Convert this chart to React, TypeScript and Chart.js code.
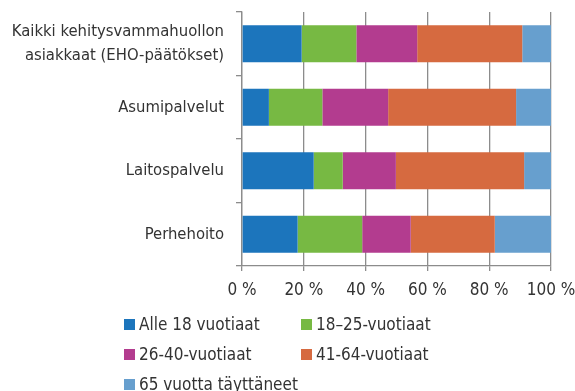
import React, { useEffect, useRef } from "react";
import { Chart, registerables } from "chart.js";

Chart.register(...registerables);

// Ikäryhmien osuudet (%) palveluittain
const categories: (string | string[])[] = [
  ["Kaikki kehitysvammahuollon", "asiakkaat (EHO-päätökset)"],
  "Asumipalvelut",
  "Laitospalvelu",
  "Perhehoito",
];
const alle18 = [19.3, 8.7, 23.2, 18.0];
const v18to25 = [17.7, 17.3, 9.4, 20.9];
const v26to40 = [19.7, 21.3, 17.2, 15.7];
const v41to64 = [34.0, 41.4, 41.5, 27.2];
const v65plus = [9.3, 11.3, 8.7, 18.2];

const seriesLabels = [
  "Alle 18 vuotiaat",
  "18–25-vuotiaat",
  "26-40-vuotiaat",
  "41-64-vuotiaat",
  "65 vuotta täyttäneet",
];
const xTicks = [0, 20, 40, 60, 80, 100];

const colors = ["#1c75bc", "#77b943", "#b33c8f", "#d66a40", "#679fce"];
const FONT = "'Liberation Sans Narrow', 'DejaVu Sans Condensed', 'Liberation Sans', sans-serif";
const TEXT = "#333333";
const GRID = "#8c8c8c";

export default function App() {
  const ref = useRef<HTMLCanvasElement | null>(null);

  useEffect(() => {
    if (!ref.current) return;
    const values = [alle18, v18to25, v26to40, v41to64, v65plus];
    const chart = new Chart(ref.current, {
      type: "bar",
      data: {
        labels: categories,
        datasets: values.map((d, i) => ({
          label: seriesLabels[i],
          data: d,
          backgroundColor: colors[i],
          borderWidth: 0,
          categoryPercentage: 0.58,
          barPercentage: 1,
        })),
      },
      options: {
        indexAxis: "y",
        animation: false,
        responsive: false,
        maintainAspectRatio: false,
        layout: { padding: { top: 12, right: 24, bottom: 90, left: 0 } },
        plugins: { legend: { display: false }, tooltip: { enabled: false } },
        scales: {
          x: {
            stacked: true,
            min: 0,
            max: 100,
            afterBuildTicks: (scale: any) => {
              scale.ticks = xTicks.map((v) => ({ value: v }));
            },
            afterFit: (scale: any) => {
              scale.height = 35;
              scale.paddingLeft = 0;
              scale.paddingRight = 0;
            },
            grid: {
              color: GRID,
              lineWidth: 1.3,
              tickLength: 5,
              drawTicks: true,
            },
            border: { color: GRID, width: 1.3 },
            ticks: {
              color: TEXT,
              padding: 9,
              font: { family: FONT, size: 17 },
              callback: (v: any) => `${v} %`,
            },
          },
          y: {
            stacked: true,
            afterFit: (scale: any) => {
              scale.width = 242;
              scale.paddingTop = 0;
              scale.paddingBottom = 0;
            },
            grid: {
              drawOnChartArea: false,
              drawTicks: true,
              tickLength: 6,
              offset: true,
              color: GRID,
              lineWidth: 1.3,
            },
            border: { color: GRID, width: 1.3 },
            ticks: {
              color: TEXT,
              padding: 12,
              font: { family: FONT, size: 16.5, lineHeight: 1.42 },
            },
          },
        },
      },
    });
    return () => chart.destroy();
  }, []);

  const legendPos = [
    { x: 124, y: 324 },
    { x: 301, y: 324 },
    { x: 124, y: 354 },
    { x: 301, y: 354 },
    { x: 124, y: 384 },
  ];

  return (
    <div style={{ position: "absolute", left: 0, top: 0, width: 575, height: 391, background: "#fff", overflow: "hidden" }}>
      <canvas ref={ref} width={575} height={391} style={{ display: "block", width: 575, height: 391 }} />
      {seriesLabels.map((label, i) => (
        <div
          key={label}
          style={{
            position: "absolute",
            left: legendPos[i].x,
            top: legendPos[i].y - 12,
            height: 24,
            display: "flex",
            alignItems: "center",
            fontFamily: FONT,
            fontSize: 17,
            color: TEXT,
            whiteSpace: "nowrap",
          }}
        >
          <span style={{ width: 11, height: 11, background: colors[i], display: "inline-block", marginRight: 4 }} />
          {label}
        </div>
      ))}
    </div>
  );
}
